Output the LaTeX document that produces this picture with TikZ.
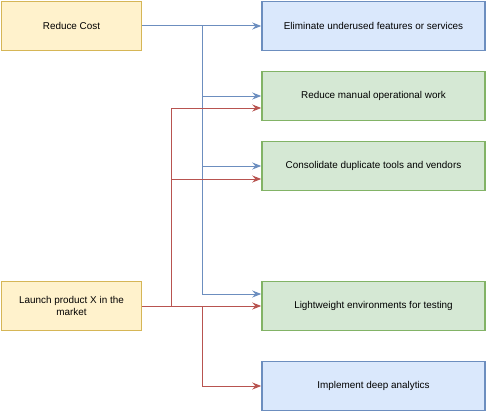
\documentclass[tikz,border=0pt]{standalone}
\usepackage{fontspec}
\setmainfont{Liberation Sans}
\usetikzlibrary{positioning,arrows.meta}
\definecolor{goalfill}{HTML}{FFF2CC}
\definecolor{goalline}{HTML}{D6B656}
\definecolor{bluefill}{HTML}{DAE8FC}
\definecolor{blueline}{HTML}{6C8EBF}
\definecolor{greenfill}{HTML}{D5E8D4}
\definecolor{greenline}{HTML}{82B366}
\definecolor{redline}{HTML}{B85450}

\begin{document}
\begin{tikzpicture}[x=1pt,y=-1pt,
  box/.style={draw,line width=1.5pt,minimum height=49pt,inner sep=2pt,align=center,
    font=\fontsize{9.9}{12}\selectfont},
  goal/.style={box,fill=goalfill,draw=goalline,minimum width=140pt},
  action/.style={box,minimum width=223pt},
  blue action/.style={action,fill=bluefill,draw=blueline},
  green action/.style={action,fill=greenfill,draw=greenline},
  every path/.style={>={Stealth[length=9pt,width=7pt,inset=3pt]}},
  cost flow/.style={draw=blueline,line width=1pt},
  launch flow/.style={draw=redline,line width=1pt},
  ]
  \useasboundingbox (0,0) rectangle (487,412);
  \node[goal](cost) at (71.5,26){Reduce Cost};
  \node[goal](launch) at (71.5,306){Launch product X in the\\market};
  \node[blue action](elim) at (373.5,26){Eliminate underused features or services};
  \node[green action](manual) at (373.5,96){Reduce manual operational work};
  \node[green action](tools) at (373.5,166){Consolidate duplicate tools and vendors};
  \node[green action](envs) at (373.5,306){Lightweight environments for testing};
  \node[blue action](analytics) at (373.5,386){Implement deep analytics};
  \coordinate (cost trunk) at (202,26);
  \coordinate (launch trunk) at (171,306);
  \coordinate (launch split) at (202,306);
  % reduce cost
  \draw[cost flow,->] (cost) -- (elim);
  \draw[cost flow,->] (cost trunk) |- (manual);
  \draw[cost flow,->] (cost trunk) |- (tools);
  \draw[cost flow,->] (cost trunk) |- ([yshift=12pt]envs.west);
  % launch product
  \draw[launch flow,->] (launch) -- (envs);
  \draw[launch flow,->] (launch trunk) |- ([yshift=-12pt]manual.west);
  \draw[launch flow,->] (launch trunk) |- ([yshift=-13pt]tools.west);
  \draw[launch flow,->] (launch split) |- (analytics);
\end{tikzpicture}
\end{document}
